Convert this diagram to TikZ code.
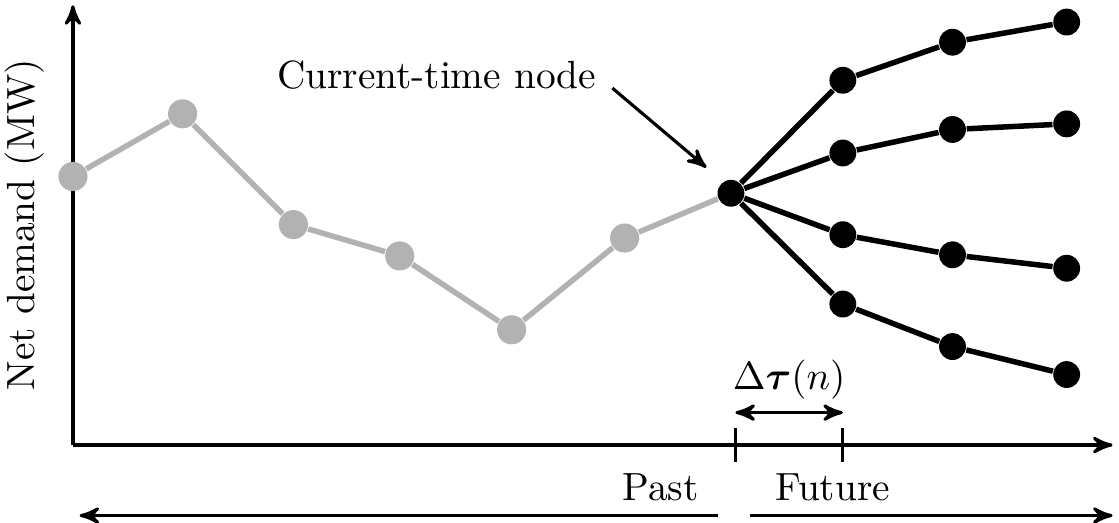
\documentclass[tikz,border=0pt]{standalone}
\usepackage{amsmath}
\usepackage{amssymb}
\usepackage{bm}
\usepackage{tikz}
\usetikzlibrary{arrows,shapes}

\tikzset{
  past/.style={circle,fill=black!30,inner sep=0pt,minimum size=0.26cm},
  fut/.style={circle,fill=black,inner sep=0pt,minimum size=0.24cm},
  pastline/.style={black!30,line width=1.4pt},
  futline/.style={black,line width=1.4pt},
  axis/.style={line width=0.8pt,-stealth'}
}

\begin{document}
\begin{tikzpicture}
    \useasboundingbox (-0.652,-0.688) rectangle (9.348,3.977);
    % axes
    \coordinate (o) at (0,0);
    \coordinate (ytop) at (0,3.93);
    \coordinate (xend) at (9.29,0);
    \draw[axis] (o) -- (ytop);
    \draw[axis] (o) -- (xend);
    \node[rotate=90] (ylab) at (-0.43,1.97) {Net demand (MW)};

    % past
    \node[past] (p1) at (0,2.40) {};
    \node[past] (p2) at (0.98,2.96) {};
    \node[past] (p3) at (1.97,1.97) {};
    \node[past] (p4) at (2.92,1.69) {};
    \node[past] (p5) at (3.92,1.03) {};
    \node[past] (p6) at (4.93,1.85) {};
    \node[fut] (c) at (5.88,2.25) {};
    \draw[pastline] (p1) -- (p2) -- (p3) -- (p4) -- (p5) -- (p6) -- (c);

    % future
    \node[fut] (a1) at (6.88,3.26) {};
    \node[fut] (a2) at (7.86,3.60) {};
    \node[fut] (a3) at (8.88,3.78) {};
    \node[fut] (b1) at (6.88,2.61) {};
    \node[fut] (b2) at (7.86,2.82) {};
    \node[fut] (b3) at (8.88,2.87) {};
    \node[fut] (d1) at (6.88,1.88) {};
    \node[fut] (d2) at (7.86,1.70) {};
    \node[fut] (d3) at (8.88,1.58) {};
    \node[fut] (e1) at (6.88,1.26) {};
    \node[fut] (e2) at (7.86,0.88) {};
    \node[fut] (e3) at (8.88,0.63) {};
    \draw[futline] (c) -- (a1) -- (a2) -- (a3);
    \draw[futline] (c) -- (b1) -- (b2) -- (b3);
    \draw[futline] (c) -- (d1) -- (d2) -- (d3);
    \draw[futline] (c) -- (e1) -- (e2) -- (e3);

    % current-time label
    \node (cur) at (3.25,3.31) {Current-time node};
    \coordinate (curtail) at (4.82,3.19);
    \coordinate (curtip) at (5.66,2.48);
    \draw[line width=0.8pt,-stealth'] (curtail) -- (curtip);

    % ticks and step
    \coordinate (t1a) at (5.92,0.15);
    \coordinate (t1b) at (5.92,-0.15);
    \coordinate (t2a) at (6.88,0.15);
    \coordinate (t2b) at (6.88,-0.15);
    \draw[line width=0.8pt] (t1a) -- (t1b);
    \draw[line width=0.8pt] (t2a) -- (t2b);
    \coordinate (s1) at (5.92,0.29);
    \coordinate (s2) at (6.88,0.29);
    \draw[line width=0.8pt,stealth'-stealth'] (s1) -- (s2);
    \node (dtau) at (6.40,0.58) {$\Delta\bm{\tau}(n)$};

    % past / future
    \node (past) at (5.25,-0.38) {Past};
    \node (future) at (6.79,-0.38) {Future};
    \coordinate (pl) at (0.06,-0.63);
    \coordinate (pr) at (5.76,-0.63);
    \coordinate (fl) at (6.05,-0.63);
    \coordinate (fr) at (9.29,-0.63);
    \draw[axis] (pr) -- (pl);
    \draw[axis] (fl) -- (fr);
\end{tikzpicture}
\end{document}
